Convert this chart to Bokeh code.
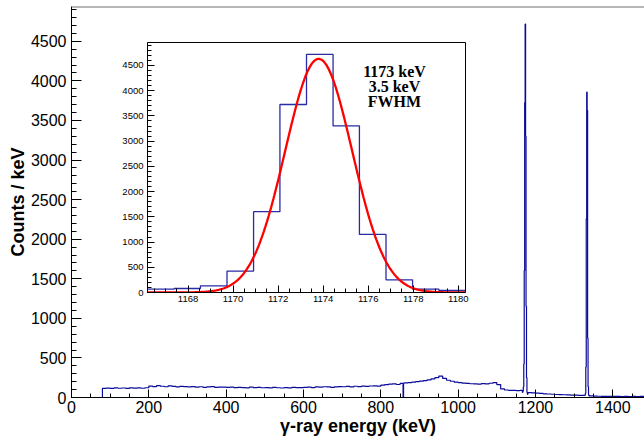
import numpy as np
from bokeh.plotting import figure
from bokeh.models import SingleIntervalTicker, Span, Label, Range1d
from bokeh.embed import file_html
from bokeh.resources import INLINE

# ---------------- data ----------------
# continuum of the main spectrum, 10 keV bins starting at 0 keV (counts / keV)
bg_bin_width = 10
bg_counts = [
    0, 0, 0, 0, 0, 0, 0, 0,
    115,
    119, 116, 121, 117, 120, 115, 122, 118, 121, 117, 123,
    144, 138, 149, 142, 136, 147, 141, 135, 140, 137,
    134, 138, 131, 136, 129, 133, 137, 128, 132, 130,
    127, 131, 124, 129, 126, 122, 130, 125, 128, 123,
    125, 121, 127, 123, 120, 126, 121, 128, 124, 126,
    129, 132, 126, 134, 131, 136, 133, 129, 135, 138,
    136, 140, 133, 142, 138, 144, 141, 145, 147, 143,
    156, 162, 168, 173, 164, 179, 184, 188, 194, 200,
    206, 214, 223, 236, 250, 271, 241, 218, 205, 194,
    188, 182, 178, 174, 172, 170, 176, 173, 180, 189,
    163, 108, 95, 91, 89, 87, 89, 68, 62, 58,
    55, 51, 47, 44, 41, 38, 37, 35, 33, 31,
    29, 28, 27, 26, 20, 17, 16, 15, 14, 14,
    13, 14, 12, 13, 12, 13, 12, 13, 12,
]

# single dead bin near 858 keV
dip_edges = [857.6, 858.8]
dip_counts = [0]

# 1173 keV photopeak (fine bins)
peak1_edges = [1166.2, 1167.38, 1168.55, 1169.73, 1170.91, 1172.08, 1173.26,
               1174.44, 1175.61, 1176.79, 1177.97, 1179.14, 1180.32]
peak1_counts = [66, 79, 132, 424, 1602, 3726, 4719, 3302, 1152, 251, 66, 40]

# 1332 keV photopeak (fine bins)
peak2_edges = [1326.6, 1327.78, 1328.95, 1330.13, 1331.31, 1332.48, 1333.66,
               1334.84, 1336.01, 1337.19, 1338.37, 1339.54]
peak2_counts = [26, 29, 55, 384, 2258, 3857, 3629, 750, 137, 32, 20]

# inset histogram around 1173 keV
inset_edges = [1166.2, 1167.38, 1168.55, 1169.73, 1170.91, 1172.08, 1173.26,
               1174.44, 1175.61, 1176.79, 1177.97, 1179.14, 1180.32]
inset_counts = [66, 79, 132, 424, 1602, 3726, 4719, 3302, 1152, 251, 66, 40]

# Gaussian fit shown in the inset
fit_centroid = 1173.8
fit_fwhm = 3.5
fit_amplitude = 4630

inset_text = ["1173 keV", "3.5 keV", "FWHM"]

# ---------------- build main step curve ----------------
windows = [(dip_edges[0], dip_edges[-1]),
           (peak1_edges[0], peak1_edges[-1]),
           (peak2_edges[0], peak2_edges[-1])]
segs = []
for i, v in enumerate(bg_counts):
    pieces = [(i * bg_bin_width, (i + 1) * bg_bin_width)]
    for wlo, whi in windows:
        new = []
        for a, b in pieces:
            if b <= wlo or a >= whi:
                new.append((a, b))
            else:
                if a < wlo:
                    new.append((a, wlo))
                if b > whi:
                    new.append((whi, b))
        pieces = new
    for a, b in pieces:
        segs.append((a, b, v))
for edges, counts in [(dip_edges, dip_counts), (peak1_edges, peak1_counts),
                      (peak2_edges, peak2_counts)]:
    for j, c in enumerate(counts):
        segs.append((edges[j], edges[j + 1], c))
segs.sort()
main_x, main_y = [], []
for a, b, v in segs:
    main_x += [a, b]
    main_y += [v, v]

inset_x, inset_y = [], []
for j, c in enumerate(inset_counts):
    inset_x += [inset_edges[j], inset_edges[j + 1]]
    inset_y += [c, c]

fit_x = np.linspace(inset_edges[0], inset_edges[-1], 400)
fit_y = fit_amplitude * np.exp(-4 * np.log(2) * (fit_x - fit_centroid) ** 2 / fit_fwhm ** 2)

# ---------------- main figure ----------------
SANS = "Liberation Sans"
Y_MAX = 4940
X_MAX = 1482
p = figure(width=640, height=437,
           x_range=Range1d(0, X_MAX), y_range=Range1d(0, Y_MAX),
           output_backend="svg", toolbar_location=None,
           min_border_left=67, min_border_right=0, min_border_top=1, min_border_bottom=45)
p.line(main_x, main_y, line_color="#0b0b99", line_width=1.2)

p.xaxis.ticker = SingleIntervalTicker(interval=200, num_minor_ticks=4)
p.yaxis.ticker = SingleIntervalTicker(interval=500, num_minor_ticks=5)
p.xaxis.axis_label = "γ-ray energy (keV)"
p.yaxis.axis_label = "Counts / keV"
for ax, mj, mn in [(p.xaxis, 8, 4), (p.yaxis, 10, 5)]:
    ax.major_tick_in = mj
    ax.major_tick_out = 0
    ax.minor_tick_in = mn
    ax.minor_tick_out = 0
    ax.major_tick_line_color = "black"
    ax.minor_tick_line_color = "black"
    ax.axis_line_color = "black"
    ax.major_label_text_font = SANS
    ax.major_label_text_font_size = "16px"
    ax.major_label_text_color = "black"
    ax.axis_label_text_font = SANS
    ax.axis_label_text_font_style = "bold"
    ax.axis_label_text_font_size = "18px"
    ax.axis_label_text_color = "black"
    ax.axis_label_standoff = 0
p.xaxis.major_label_standoff = 3
p.yaxis.major_label_standoff = 5
p.xgrid.visible = False
p.ygrid.visible = False
p.outline_line_color = None
p.background_fill_color = "white"
p.border_fill_color = "white"
p.add_layout(Span(location=Y_MAX, dimension="width", line_color="#707070", line_width=2))
p.styles = {"position": "absolute", "left": "4px", "top": "5px"}

# ---------------- inset ----------------
q = figure(width=358, height=269,
           x_range=Range1d(inset_edges[0], inset_edges[-1]), y_range=Range1d(0, 4955),
           output_backend="svg", toolbar_location=None,
           min_border_left=34, min_border_right=6, min_border_top=3, min_border_bottom=16)
q.line(inset_x, inset_y, line_color="#2a2aa8", line_width=1.3)
q.line(fit_x, fit_y, line_color="#ff0000", line_width=2.3)
q.xaxis.ticker = SingleIntervalTicker(interval=2, num_minor_ticks=4)
q.yaxis.ticker = SingleIntervalTicker(interval=500, num_minor_ticks=5)
for ax in [q.xaxis, q.yaxis]:
    ax.major_tick_in = 7
    ax.major_tick_out = 0
    ax.minor_tick_in = 4
    ax.minor_tick_out = 0
    ax.major_tick_line_color = "black"
    ax.minor_tick_line_color = "black"
    ax.axis_line_color = "black"
    ax.major_label_text_font = SANS
    ax.major_label_text_font_size = "9.5px"
    ax.major_label_text_color = "black"
q.xaxis.major_label_standoff = 3
q.yaxis.major_label_standoff = 4
q.xgrid.visible = False
q.ygrid.visible = False
q.outline_line_color = "black"
q.outline_line_width = 1
q.background_fill_color = "white"
q.border_fill_color = "white"
for k, t in enumerate(inset_text):
    q.add_layout(Label(x=247, y=221 - 15 * k, x_units="screen", y_units="screen", text=t,
                       text_font="Liberation Serif", text_font_style="bold",
                       text_font_size="16px", text_align="center", text_baseline="middle",
                       text_color="black"))
q.styles = {"position": "absolute", "left": "113px", "top": "39px"}

open("out.html", "w").write(file_html([p, q], INLINE))
